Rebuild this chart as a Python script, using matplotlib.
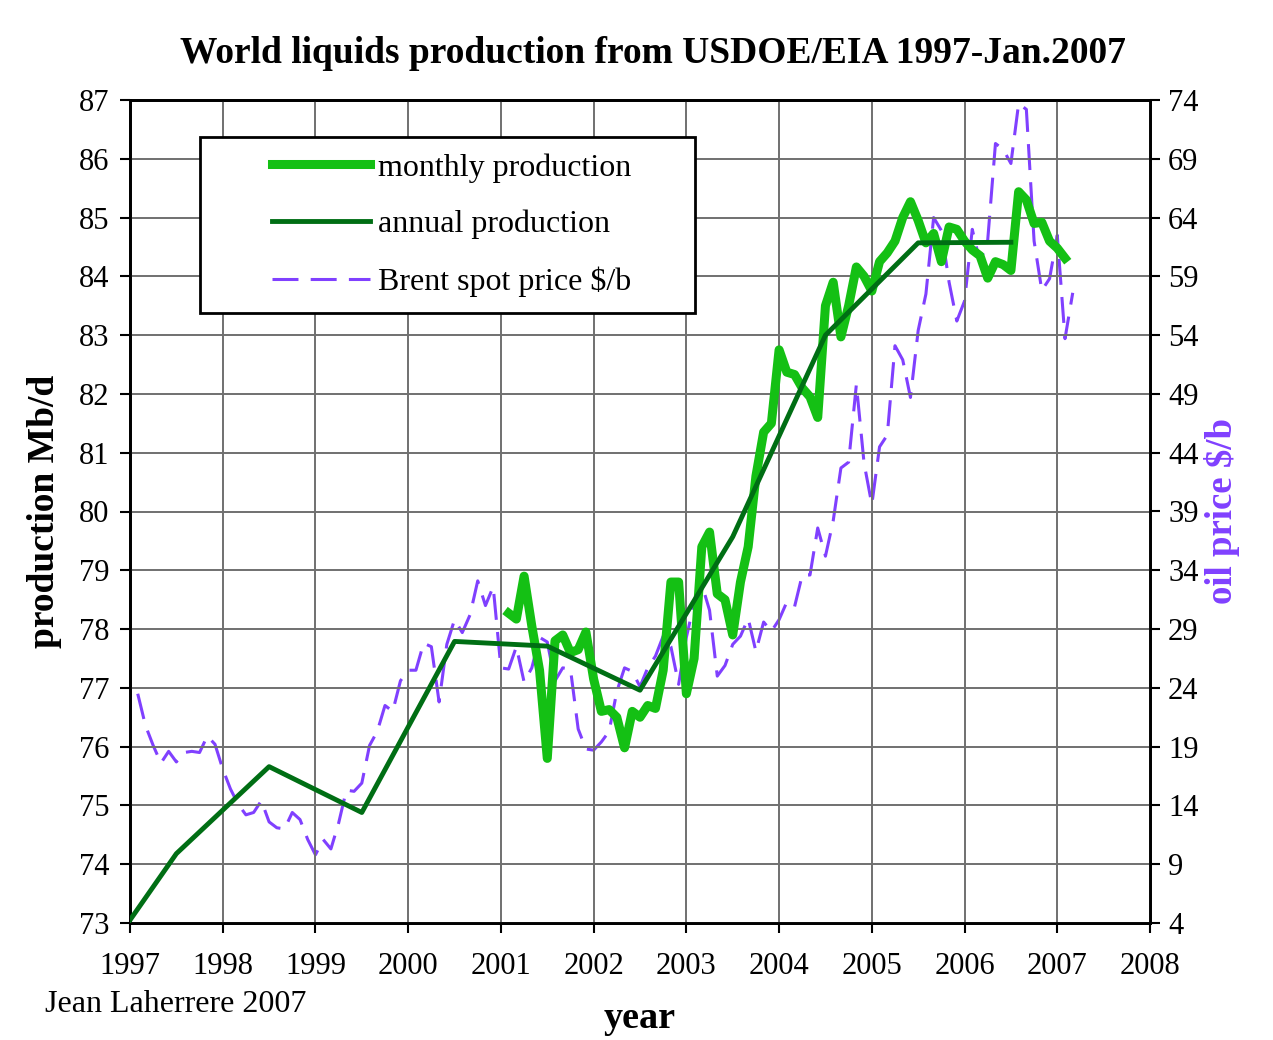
import matplotlib
matplotlib.use("Agg")
import matplotlib.pyplot as plt
from matplotlib.legend_handler import HandlerLine2D
import numpy as np

plt.rcParams['font.family'] = ['Liberation Serif', 'DejaVu Serif']

# annual production, Mb/d (mid-year points)
annual_t = [1997.0, 1997.5, 1998.5, 1999.5, 2000.5, 2001.5, 2002.5, 2003.5, 2004.5, 2005.5, 2006.5]
annual_prod = [73.05, 74.18, 75.66, 74.88, 77.79, 77.71, 76.96, 79.57, 83.0, 84.57, 84.58]

# monthly production Jan 2001 - Jan 2007, Mb/d
monthly_prod = [
    78.27, 78.17, 78.9, 78.05, 77.3, 75.8, 77.8, 77.9, 77.6, 77.65, 77.95, 77.15,
    76.6, 76.63, 76.5, 75.98, 76.6, 76.5, 76.7, 76.65, 77.3, 78.8, 78.8, 76.9,
    77.5, 79.4, 79.65, 78.6, 78.5, 77.9, 78.8, 79.4, 80.6, 81.35, 81.5, 82.75,
    82.37, 82.33, 82.1, 81.95, 81.6, 83.5, 83.9, 82.97, 83.5, 84.16, 84.0, 83.75,
    84.25, 84.4, 84.6, 85.0, 85.27, 84.95, 84.57, 84.73, 84.25, 84.84, 84.8, 84.6,
    84.45, 84.35, 83.97, 84.25, 84.2, 84.1, 85.44, 85.3, 84.9, 84.92, 84.6, 84.48,
    84.31,
]

# Brent spot price Jan 1997 - Feb 2007, $/b
brent = [
    23.5, 20.8, 19.1, 17.6, 18.6, 17.7, 18.5, 18.6, 18.5, 19.9, 19.2, 17.1,
    15.4, 14.1, 13.2, 13.4, 14.4, 12.6, 12.1, 12.0, 13.4, 12.8, 11.1, 9.8,
    11.1, 10.3, 12.5, 15.3, 15.2, 15.9, 19.1, 20.3, 22.5, 22.0, 24.6, 25.5,
    25.5, 27.8, 27.5, 22.8, 27.7, 29.8, 28.7, 30.2, 33.1, 31.0, 32.6, 25.7,
    25.6, 27.5, 24.5, 25.7, 28.3, 27.9, 24.6, 25.7, 25.6, 20.5, 18.8, 18.7,
    19.4, 20.3, 23.7, 25.7, 25.4, 24.1, 25.7, 26.7, 28.4, 27.5, 24.3, 28.3,
    31.2, 32.8, 30.6, 25.0, 25.9, 27.7, 28.4, 29.9, 27.1, 29.6, 28.8, 29.8,
    31.3, 30.9, 33.6, 33.6, 37.6, 35.2, 38.2, 42.7, 43.2, 49.8, 43.1, 39.6,
    44.5, 45.5, 53.1, 51.9, 48.7, 54.4, 57.5, 64.0, 62.9, 58.5, 55.2, 56.9,
    63.0, 60.2, 62.1, 70.3, 69.8, 68.6, 73.7, 73.2, 62.0, 57.8, 58.8, 62.5,
    53.7, 57.6,
]

monthly_t = 2001 + np.arange(1, len(monthly_prod) + 1) / 12.0
brent_t = 1997 + np.arange(1, len(brent) + 1) / 12.0

c_month = '#14c014'
c_annual = '#006e14'
c_price = '#8040ff'


class OffsetLine(HandlerLine2D):
    # draws the legend line only on the right part of the handle box
    def __init__(self, off, **kw):
        super().__init__(**kw)
        self.off = off

    def create_artists(self, legend, orig_handle, xdescent, ydescent,
                       width, height, fontsize, trans):
        o = self.off * fontsize
        return super().create_artists(legend, orig_handle, xdescent - o,
                                      ydescent, width - o, height,
                                      fontsize, trans)


fig = plt.figure(figsize=(12.73, 10.40), dpi=100)
ax = fig.add_axes([130 / 1273, 1 - 923 / 1040, 1020 / 1273, 823 / 1040])
ax2 = ax.twinx()

ax.set_xlim(1997, 2008)
ax.set_ylim(73, 87)
ax2.set_ylim(4, 74)
ax.set_xticks(range(1997, 2009))
ax.set_yticks(range(73, 88))
ax2.set_yticks(range(4, 75, 5))
ax.grid(True, color='#707070', lw=1.4)
ax.set_axisbelow(True)

for a in (ax, ax2):
    for s in a.spines.values():
        s.set_linewidth(2)
        s.set_color('black')
    a.tick_params(labelsize=22, length=7, width=1.5, direction='out')
ax.tick_params(axis='x', pad=14)
ax.tick_params(axis='y', pad=8)
ax2.tick_params(axis='y', pad=6)

l3, = ax2.plot(brent_t, brent, color=c_price, lw=2.2, dashes=(8.5, 4),
               label='Brent spot price $/b', zorder=2)
l1, = ax.plot(monthly_t, monthly_prod, color=c_month, lw=6.5,
              label='monthly production', zorder=3)
l2, = ax.plot(annual_t, annual_prod, color=c_annual, lw=3.5,
              label='annual production', zorder=4)
ax.set_zorder(ax2.get_zorder() + 1)
ax.patch.set_visible(False)

hm = {h: OffsetLine(1.74) for h in (l1, l2, l3)}
leg = ax.legend(handles=[l1, l2, l3], loc='upper left', mode='expand',
                bbox_to_anchor=(0.0686, 0.74, 0.4853, 0.215), fontsize=23,
                handlelength=4.82, handletextpad=0.25, labelspacing=0.85,
                borderpad=0.5, borderaxespad=0, fancybox=False,
                framealpha=1, edgecolor='black', handler_map=hm)
leg.get_frame().set_linewidth(2)
leg.set_zorder(10)

fig.text(0.513, 0.949, 'World liquids production from USDOE/EIA 1997-Jan.2007',
         ha='center', va='center', fontsize=27, fontweight='bold')
ax.set_ylabel('production Mb/d', fontsize=27, fontweight='bold', labelpad=12)
ax2.set_ylabel('oil price $/b', fontsize=26.5, fontweight='bold', color=c_price,
               labelpad=4)
ax.set_xlabel('year', fontsize=27.5, fontweight='bold', labelpad=14)
fig.text(45 / 1273, 1 - 1005 / 1040, 'Jean Laherrere 2007', fontsize=23,
         ha='left', va='center')

fig.savefig('out.png', dpi=100)
